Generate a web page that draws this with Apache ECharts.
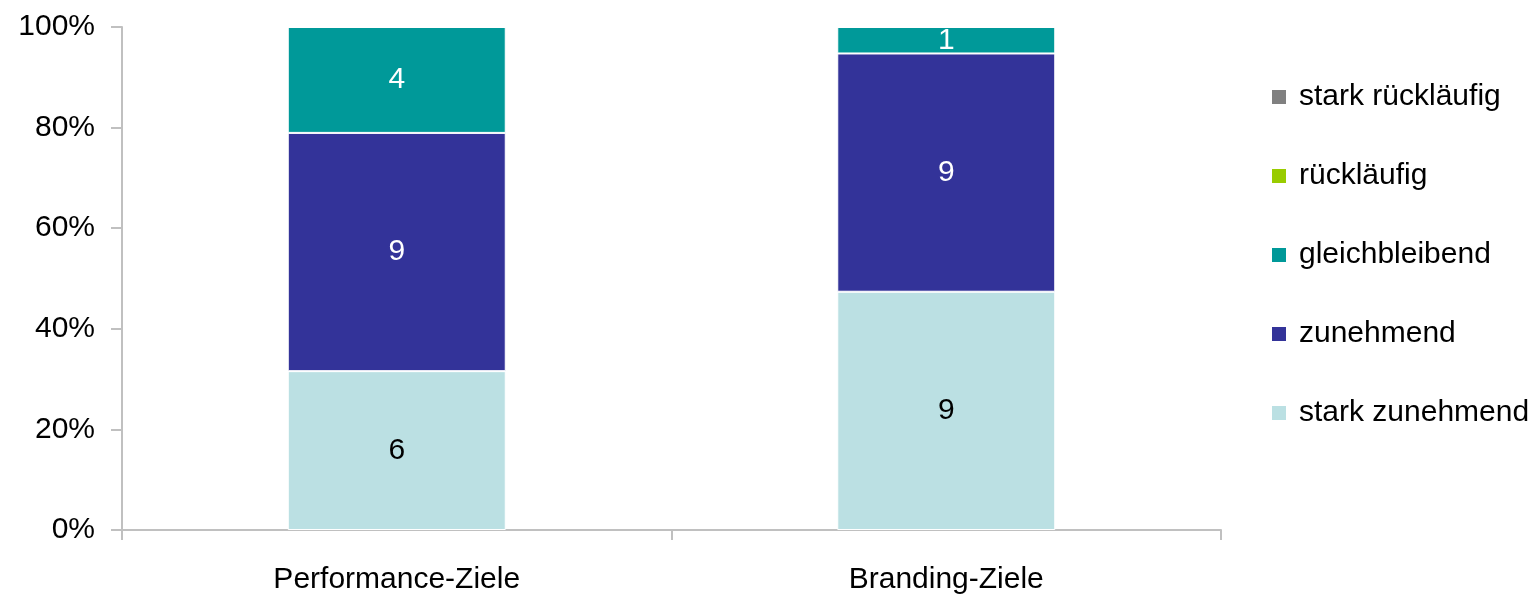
<!DOCTYPE html>
<html>
<head>
<meta charset="utf-8">
<script src="https://cdn.jsdelivr.net/npm/echarts@6/dist/echarts.min.js"></script>
<style>
  html, body { margin: 0; padding: 0; background: #fff; }
  #chart { width: 1532px; height: 595px; }
</style>
</head>
<body>
<div id="chart"></div>
<script>
// Kategorien und Anzahl der Nennungen je Antwort
const categories = ['Performance-Ziele', 'Branding-Ziele'];
const starkZunehmend = [6, 9];
const zunehmend = [9, 9];
const gleichbleibend = [4, 1];
const ruecklaeufig = [0, 0];
const starkRuecklaeufig = [0, 0];

const seriesNames = ['stark zunehmend', 'zunehmend', 'gleichbleibend', 'rückläufig', 'stark rückläufig'];
const seriesCounts = [starkZunehmend, zunehmend, gleichbleibend, ruecklaeufig, starkRuecklaeufig];
const colors = ['#BBE0E3', '#333399', '#009999', '#99CC00', '#808080'];
const labelColors = ['#000', '#fff', '#fff', '#000', '#fff'];

const totals = categories.map((c, i) => seriesCounts.reduce((s, arr) => s + arr[i], 0));

const font = '"Liberation Sans", Arial, sans-serif';
const chart = echarts.init(document.getElementById('chart'));

const series = seriesNames.map((name, k) => ({
  name: name,
  type: 'bar',
  stack: 'total',
  barWidth: 218,
  itemStyle: { color: colors[k], borderColor: '#fff', borderWidth: 1 },
  label: {
    show: true,
    position: 'inside',
    color: labelColors[k],
    fontSize: 30,
    fontFamily: font,
    formatter: p => (seriesCounts[k][p.dataIndex] ? String(seriesCounts[k][p.dataIndex]) : '')
  },
  data: seriesCounts[k].map((v, i) => v / totals[i] * 100)
}));

chart.setOption({
  animation: false,
  textStyle: { fontFamily: font },
  grid: { left: 122, right: 311, top: 27, bottom: 64 },
  legend: {
    orient: 'vertical',
    left: 1270,
    top: 82,
    padding: 0,
    data: seriesNames.slice().reverse(),
    icon: 'rect',
    itemWidth: 16,
    itemHeight: 16,
    itemGap: 49,
    textStyle: { fontSize: 30, color: '#000', fontFamily: font, lineHeight: 30, padding: [0, 0, 0, 7] }
  },
  xAxis: {
    type: 'category',
    data: categories,
    axisLine: { show: true, lineStyle: { color: '#c0c0c0', width: 2 } },
    axisTick: { show: true, length: 10, lineStyle: { color: '#c0c0c0', width: 2 } },
    axisLabel: { fontSize: 30, color: '#000', margin: 35, fontFamily: font }
  },
  yAxis: {
    type: 'value',
    min: 0,
    max: 100,
    interval: 20,
    axisLine: { show: true, lineStyle: { color: '#c0c0c0', width: 2 } },
    axisTick: { show: true, length: 11, lineStyle: { color: '#c0c0c0', width: 2 } },
    splitLine: { show: false },
    axisLabel: { formatter: '{value}%', fontSize: 30, color: '#000', margin: 27, fontFamily: font }
  },
  series: series
});
</script>
</body>
</html>
